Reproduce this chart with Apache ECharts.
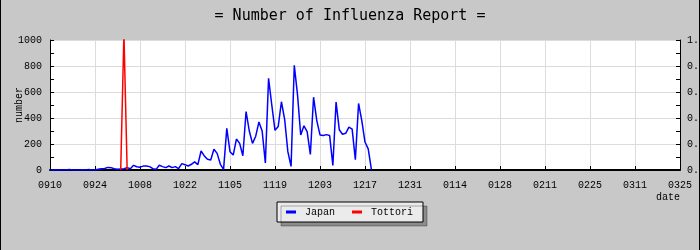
<!DOCTYPE html>
<html>
<head>
<meta charset="utf-8">
<script src="https://cdn.jsdelivr.net/npm/echarts@6/dist/echarts.min.js"></script>
<style>
html,body{margin:0;padding:0;background:#c8c8c8;}
#c{width:700px;height:250px;}
</style>
</head>
<body>
<div id="c"></div>
<script>
// x tick labels (every 14 days starting 09/10)
const tickLabels = ['0910','0924','1008','1022','1105','1119','1203','1217','1231','0114','0128','0211','0225','0311','0325'];
// Japan: daily reports, day 0 = 09/10
const japanValues = [
  0,0,2,0,0,0,3,0,0,0,2,0,3,0,0,
  5,10,12,20,18,10,5,8,10,18,10,36,25,22,30,
  31,26,10,5,36,26,18,31,18,26,10,49,41,31,44,
  62,41,146,108,82,77,159,128,44,5,320,141,115,238,205,
  110,450,300,205,260,370,300,55,705,500,305,335,525,390,141,
  28,805,580,269,340,295,120,560,380,270,265,272,265,35,522,
  310,275,282,330,315,80,512,380,215,163,3
];
// Tottori: only a short spike
const tottoriDays = [22,23,24];
const tottoriValues = [0,1050,0];

const japanData = japanValues.map((v,i)=>[i,v]);
const tottoriData = tottoriDays.map((d,i)=>[d,tottoriValues[i]]);

const mono = 'Liberation Mono';
const chart = echarts.init(document.getElementById('c'), null, {renderer:'canvas'});
chart.setOption({
  backgroundColor:'#c8c8c8',
  animation:false,
  title:{
    text:'= Number of Influenza Report =',
    left:'center', top:4,
    textStyle:{fontFamily:'DejaVu Sans Mono',fontSize:15,fontWeight:'normal',color:'#000'}
  },
  legend:{
    left:277, top:202,
    padding:[5,10,5,9],
    itemGap:17,
    itemWidth:10, itemHeight:3,
    icon:'rect',
    backgroundColor:'#ebebeb',
    borderColor:'#000', borderWidth:1,
    shadowColor:'rgba(0,0,0,0.3)', shadowOffsetX:4, shadowOffsetY:4, shadowBlur:0,
    textStyle:{fontFamily:mono,fontSize:10,color:'#000',padding:[0,0,0,4]},
    data:['Japan','Tottori']
  },
  grid:{left:50,right:20,top:40,bottom:80,show:true,backgroundColor:'#fff',borderWidth:0,
    containLabel:false, outerBoundsMode:'none'},
  xAxis:{
    type:'value', min:0, max:196, interval:14,
    name:'date', nameLocation:'end', nameGap:0, nameMoveOverlap:false,
    nameTextStyle:{fontFamily:mono,fontSize:10,color:'#000',align:'right',verticalAlign:'top',padding:[22,0,0,0]},
    axisLine:{show:true,onZero:false,lineStyle:{color:'#000',width:2}},
    axisTick:{show:true,inside:true,length:4,lineStyle:{color:'#000'}},
    axisLabel:{fontFamily:mono,fontSize:10,color:'#000',margin:10,
      formatter:v=>tickLabels[Math.round(v/14)]},
    splitLine:{show:true,lineStyle:{color:'#dcdcdc',width:1}}
  },
  yAxis:[{
    type:'value', min:0, max:1000, interval:200,
    name:'number', nameLocation:'middle', nameGap:26, nameMoveOverlap:false,
    nameTextStyle:{fontFamily:mono,fontSize:10,color:'#000'},
    axisLine:{show:true,lineStyle:{color:'#000',width:1}},
    axisTick:{show:true,inside:true,length:4,lineStyle:{color:'#000'}},
    minorTick:{show:true,splitNumber:2,length:4,lineStyle:{color:'#000'}},
    axisLabel:{fontFamily:mono,fontSize:10,color:'#000',margin:8,formatter:v=>String(v)},
    splitLine:{show:true,lineStyle:{color:'#dcdcdc',width:1}}
  },{
    type:'value', min:0, max:1, interval:0.2, position:'right',
    axisLine:{show:true,lineStyle:{color:'#000',width:1}},
    axisTick:{show:true,inside:true,length:4,lineStyle:{color:'#000'}},
    minorTick:{show:true,splitNumber:2,length:4,lineStyle:{color:'#000'}},
    axisLabel:{fontFamily:mono,fontSize:10,color:'#000',margin:7,formatter:v=>v.toFixed(1)},
    splitLine:{show:false}
  }],
  series:[{
    name:'Japan', type:'line', data:japanData, showSymbol:false, symbol:'none',
    lineStyle:{color:'#0000ff',width:1.5}, itemStyle:{color:'#0000ff'}
  },{
    name:'Tottori', type:'line', data:tottoriData, showSymbol:false, symbol:'none',
    lineStyle:{color:'#ff0000',width:1.5}, itemStyle:{color:'#ff0000'}
  }],
  graphic:[
    {type:'line',shape:{x1:0.5,y1:0,x2:0.5,y2:250},style:{stroke:'#000',lineWidth:1},silent:true,z:100},
    {type:'line',shape:{x1:699.5,y1:0,x2:699.5,y2:250},style:{stroke:'#000',lineWidth:1},silent:true,z:100}
  ]
});
</script>
</body>
</html>
